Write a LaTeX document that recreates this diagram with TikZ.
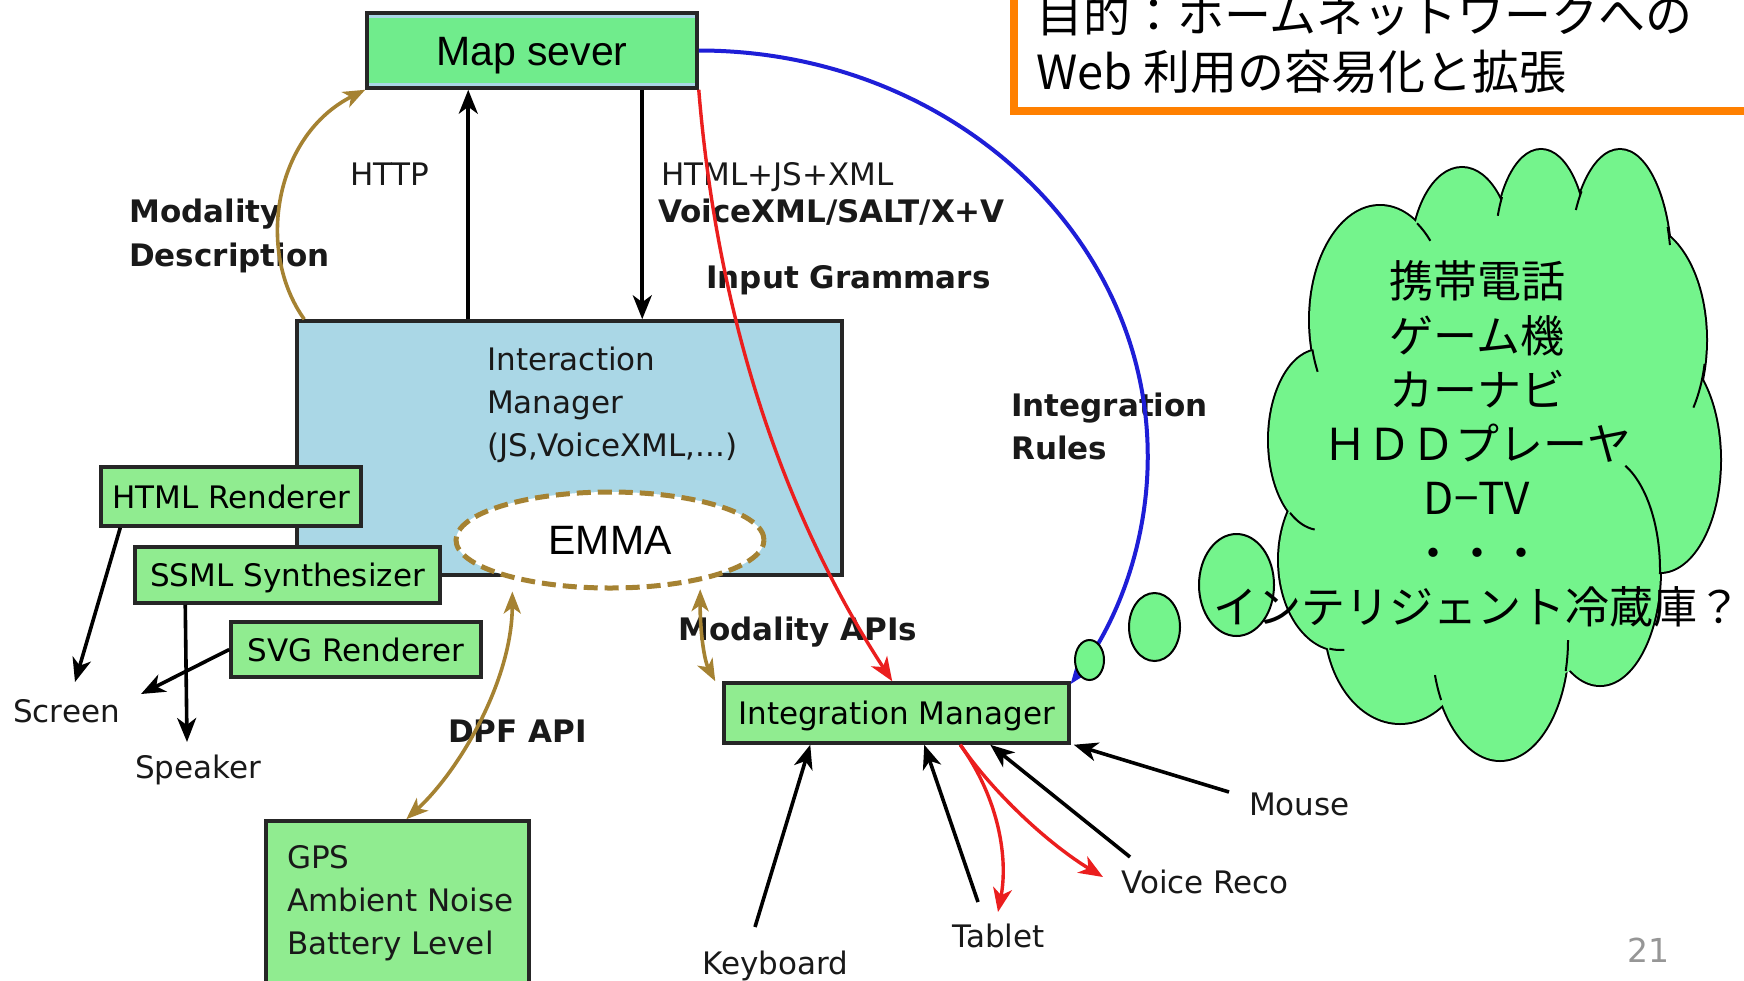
\documentclass[tikz,border=0pt]{standalone}
\usepackage{fontspec}
\setmainfont{DejaVu Sans}
\newfontfamily\arialf{Liberation Sans}
\newfontfamily\cjkf{Noto Sans CJK JP}
\usetikzlibrary{arrows.meta,shapes.geometric}
\definecolor{imblue}{RGB}{170,215,230}
\definecolor{boxgreen}{RGB}{144,236,144}
\definecolor{mapgreen}{RGB}{112,236,140}
\definecolor{cloudgreen}{RGB}{116,244,140}
\definecolor{goldc}{RGB}{165,130,50}
\definecolor{redc}{RGB}{235,30,30}
\definecolor{bluec}{RGB}{30,30,215}
\definecolor{orangec}{RGB}{255,128,0}
\definecolor{txt}{RGB}{25,25,25}
\definecolor{pagegray}{RGB}{150,150,150}
\begin{document}
\begin{tikzpicture}[x=1pt,y=-1pt,
  lbl/.style={font=\fontsize{31}{43}\selectfont, text=txt, inner sep=0pt, anchor=base west},
  blbl/.style={font=\fontsize{31}{43}\selectfont\bfseries, text=txt, inner sep=0pt, anchor=base west},
  gbox/.style={draw=black!85, line width=3.5pt, fill=boxgreen, inner sep=0pt, text height=23pt, text depth=0pt, font=\fontsize{31}{43}\selectfont},
  cjkt/.style={font=\cjkf\fontsize{44}{54}\selectfont, inner sep=0pt, anchor=base, text=black},
  goalt/.style={font=\cjkf\fontsize{47}{57}\selectfont, inner sep=0pt, anchor=base west, text=black},
  arr/.style={-{Stealth[length=24pt,width=19pt,inset=7pt]}, line width=3.6pt, black},
  rarr/.style={-{Stealth[length=24pt,width=19pt,inset=7pt]}, line width=3.4pt, redc},
  garr/.style={-{Stealth[length=22pt,width=17pt,inset=6pt]}, line width=3.6pt, goldc},
  gdarr/.style={{Stealth[length=22pt,width=17pt,inset=6pt]}-{Stealth[length=22pt,width=17pt,inset=6pt]}, line width=3.6pt, goldc},
  barr/.style={-{Stealth[length=20pt,width=15pt,inset=5pt]}, line width=4pt, bluec},
  bubble/.style={draw=black, line width=2pt, fill=cloudgreen},
  hook/.style={black, line width=2pt}
]
\useasboundingbox (0,0) rectangle (1744,980);
\fill[white] (0,0) rectangle (1744,980);
\clip (0,0) rectangle (1744,980);

% goal box
\draw[orangec, line width=8pt] (1014,-40) rectangle (1790,111);
\node[goalt] (goal1) at (1036,32) {目的：ホームネットワークへの};
\node[goalt] (goal2) at (1036,89) {Web 利用の容易化と拡張};

% interaction manager
\node[draw=black!85, line width=3.5pt, fill=imblue, minimum width=545pt, minimum height=254pt, inner sep=0pt] (imbox) at (569.5,448) {};
\node[lbl] (imt1) at (487,370) {Interaction};
\node[lbl] (imt2) at (487,413) {Manager};
\node[lbl] (imt3) at (487,456) {(JS,VoiceXML,...)};

% map server
\node[draw=black!85, line width=3.5pt, fill=imblue, minimum width=330pt, minimum height=75pt, inner sep=0pt,
  text height=29.4pt, text depth=0pt, font=\arialf\fontsize{41}{48}\selectfont,
  path picture={\fill[mapgreen] ([shift={(2pt,-5pt)}]path picture bounding box.north west) rectangle ([shift={(-2pt,5pt)}]path picture bounding box.south east);}]
  (map) at (532,50.5) {Map sever};

% renderers
\node[gbox, minimum width=260pt, minimum height=59pt] (html) at (231,496.5) {HTML Renderer};
\node[gbox, minimum width=305pt, minimum height=56pt] (ssml) at (287.5,575) {SSML Synthesizer};
\node[gbox, minimum width=250pt, minimum height=55pt] (svg) at (356,649.5) {SVG Renderer};

% EMMA
\node[ellipse, draw=goldc, line width=5pt, dash pattern=on 14pt off 7pt, fill=white, minimum width=308pt, minimum height=96pt, inner sep=0pt,
  font=\arialf\fontsize{41}{48}\selectfont, text height=29pt, text depth=0pt] (emma) at (610,540) {EMMA};

% integration manager
\node[gbox, minimum width=345pt, minimum height=60pt] (integ) at (896.5,713) {Integration Manager};

% GPS box
\node[gbox, minimum width=263pt, minimum height=179pt] (gps) at (397.5,910.5) {};
\node[lbl] (gps1) at (287,868) {GPS};
\node[lbl] (gps2) at (287,911) {Ambient Noise};
\node[lbl] (gps3) at (287,954) {Battery Level};

% labels
\node[lbl] (http) at (350,185) {HTTP};
\node[lbl] (hjx) at (661,185) {HTML+JS+XML};
\node[blbl] (vxml) at (658,222) {VoiceXML/SALT/X+V};
\node[blbl] (md1) at (129,222) {Modality};
\node[blbl] (md2) at (129,266) {Description};
\node[blbl] (ig) at (706,288) {Input Grammars};
\node[blbl] (ir1) at (1011,416) {Integration};
\node[blbl] (ir2) at (1011,459) {Rules};
\node[blbl] (mapi) at (678,640) {Modality APIs};
\node[blbl] (dpf) at (448,742) {DPF API};
\node[lbl] (screen) at (13,722) {Screen};
\node[lbl] (speaker) at (135,778) {Speaker};
\node[lbl] (kbd) at (702,974) {Keyboard};
\node[lbl] (tablet) at (952,947) {Tablet};
\node[lbl] (voice) at (1121,893) {Voice Reco};
\node[lbl] (mouse) at (1249,815) {Mouse};

% coordinates for free ends
\coordinate (scrtip) at (75,682);
\coordinate (scrtip2) at (141,694);
\coordinate (spktip) at (187,742);
\coordinate (kbtail) at (755,927);
\coordinate (tbtail) at (978,902);
\coordinate (vrtail) at (1130,857);
\coordinate (mstail) at (1229,792);
\coordinate (tbred) at (998,912);
\coordinate (vrred) at (1103,877);

% connectors
\draw[arr] ([xshift=173pt]imbox.north west) -- ([xshift=103pt]map.south west);
\draw[arr] ([xshift=277pt]map.south west) -- ([xshift=347pt]imbox.north west);
\draw[garr] ([xshift=9pt]imbox.north west) .. controls (255,250) and (275,135) .. (map.south west);
\draw[rarr] (map.south east) .. controls (720,350) and (800,540) .. ([xshift=170pt]integ.north west);
\draw[barr] (map.east) arc[start angle=-90, end angle=34.1, x radius=449, y radius=406];
\draw[gdarr] ([yshift=-12pt]emma.202) .. controls (512,680) and (460,770) .. ([xshift=142pt]gps.north west);
\draw[gdarr] ([shift={(9pt,-6pt)}]emma.-28) .. controls (700,630) and (704,660) .. ([xshift=-7pt]integ.north west);
\draw[arr] ([xshift=21pt]html.south west) -- (scrtip);
\draw[arr] ([xshift=52pt]ssml.south west) -- (spktip);
\draw[arr] (svg.west) -- (scrtip2);
\draw[arr] (kbtail) -- ([xshift=88pt]integ.south west);
\draw[arr] (tbtail) -- ([xshift=202pt]integ.south west);
\draw[arr] (vrtail) -- ([xshift=268pt]integ.south west);
\draw[arr] (mstail) -- ([xshift=3pt]integ.south east);
\draw[rarr] ([xshift=238pt]integ.south west) .. controls (1000,800) and (1008,860) .. (tbred);
\draw[rarr] ([xshift=238pt]integ.south west) .. controls (995,795) and (1050,845) .. (vrred);

% cloud
\foreach \cx/\cy/\rx/\ry in {1380/320/70/114, 1462/262/51/94, 1541/250/46/100, 1620/270/51/120, 1640/340/66/115, 1660/460/60/112, 1320/440/51/90, 1340/560/61/90, 1400/620/75/103, 1500/640/68/120, 1600/570/60/115}
  \draw[black, line width=4pt] (\cx,\cy) ellipse[x radius=\rx, y radius=\ry];
\foreach \cx/\cy/\rx/\ry in {1380/320/70/114, 1462/262/51/94, 1541/250/46/100, 1620/270/51/120, 1640/340/66/115, 1660/460/60/112, 1320/440/51/90, 1340/560/61/90, 1400/620/75/103, 1500/640/68/120, 1600/570/60/115}
  \fill[cloudgreen] (\cx,\cy) ellipse[x radius=\rx, y radius=\ry];
\fill[cloudgreen] (1495,450) ellipse[x radius=190, y radius=240];
% inner hooks of the cloud bumps
\foreach \cx/\cy/\rx/\ry/\a/\b in {1380/320/70/114/-58/-44, 1541/250/46/100/-148/-160, 1620/270/51/120/-139/-150, 1620/270/51/120/-21/-12, 1640/340/66/115/12/36, 1380/320/70/114/165/153, 1320/440/51/90/126/96, 1340/560/61/90/100/86, 1500/640/68/120/150/163, 1500/640/68/120/15/0, 1600/570/60/115/2/-65}
  \draw[hook] ({\cx+\rx*cos(\a)},{\cy+\ry*sin(\a)}) arc[start angle=\a, end angle=\b, x radius=\rx, y radius=\ry];

% thought bubbles
\draw[bubble] (1089.5,660) ellipse[x radius=14.5, y radius=20];
\draw[bubble] (1154.5,627) ellipse[x radius=25.5, y radius=34];
\draw[bubble] (1236.5,585) ellipse[x radius=37.5, y radius=51];

% cloud text
\node[cjkt] (c1) at (1477,297) {携帯電話};
\node[cjkt] (c2) at (1477,352) {ゲーム機};
\node[cjkt] (c3) at (1477,406) {カーナビ};
\node[cjkt] (c4) at (1477,460) {ＨＤＤプレーヤ};
\node[cjkt] (c5) at (1477,514) {D−TV};
\node[cjkt] (c6) at (1477,569) {・・・};
\node[cjkt] (c7) at (1477,623) {インテリジェント冷蔵庫？};

% page number
\node[font=\fontsize{33}{40}\selectfont, text=pagegray, inner sep=0pt, anchor=base west] (pnum) at (1627,962) {21};
\end{tikzpicture}
\end{document}
